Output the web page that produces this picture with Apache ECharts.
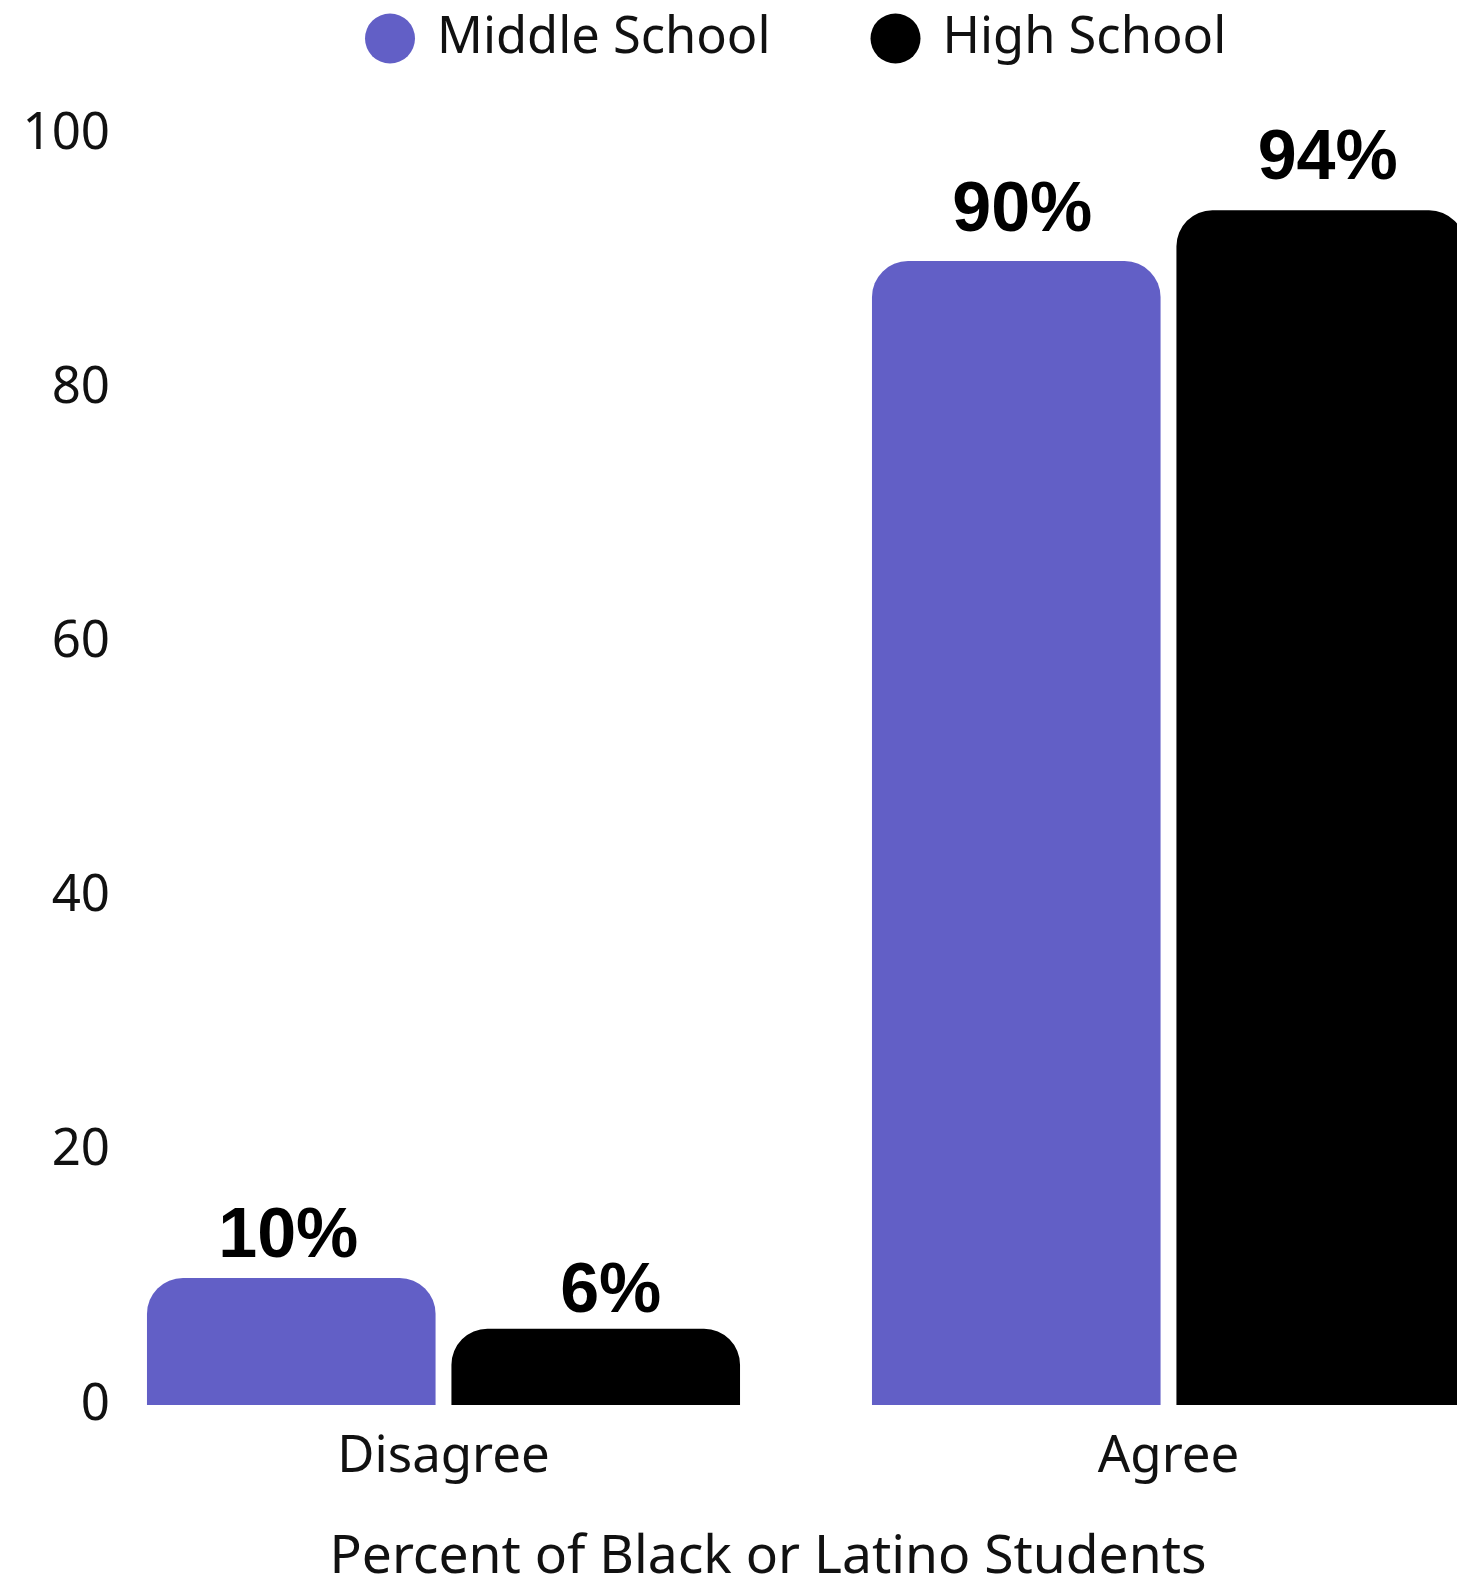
<!DOCTYPE html>
<html>
<head>
<meta charset="utf-8">
<script src="https://cdn.jsdelivr.net/npm/echarts@6/dist/echarts.min.js"></script>
<style>
html,body{margin:0;padding:0;background:#fff;}
#chart{width:1457px;height:1577px;}
</style>
</head>
<body>
<div id="chart"></div>
<script>
const categories = ["Disagree", "Agree"];
const seriesNames = ["Middle School", "High School"];
const middleSchool = [10, 90];
const highSchool = [6, 94];
const yTicks = [0, 20, 40, 60, 80, 100];
const colors = ["#625fc6", "#000000"];
// small per-label nudges (pixels) to mimic the reference's label placement
const middleLabelNudge = [[-3, 9], [6, 0]];
const highLabelNudge = [[15, 13], [7, -2]];

const chart = echarts.init(document.getElementById('chart'));
const labelStyle = {
  show: true,
  position: 'top',
  distance: 14,
  fontFamily: 'Liberation Sans, Arial, sans-serif',
  fontWeight: 'bold',
  fontSize: 70,
  color: '#000',
  formatter: p => p.value + '%'
};
function withNudges(values, nudges) {
  return values.map((v, i) => ({value: v, label: {offset: nudges[i]}}));
}
chart.setOption({
  animation: false,
  color: colors,
  legend: {
    data: seriesNames,
    top: 8,
    left: 360,
    icon: 'circle',
    itemWidth: 50,
    itemHeight: 50,
    itemGap: 100,
    textStyle: {
      fontFamily: 'Noto Sans',
      fontSize: 50.6,
      color: '#111',
      padding: [0, 0, 0, 17]
    }
  },
  grid: {
    left: 81,
    width: 1450,
    top: 134,
    bottom: 172,
    containLabel: false,
    outerBoundsMode: 'none'
  },
  xAxis: {
    type: 'category',
    data: categories,
    name: 'Percent of Black or Latino Students',
    nameLocation: 'middle',
    nameGap: 126,
    nameTextStyle: {
      fontFamily: 'Noto Sans',
      fontSize: 53.4,
      color: '#111',
      padding: [0, 76, 0, 0]
    },
    axisLine: {show: false},
    axisTick: {show: false},
    axisLabel: {
      margin: 27,
      fontFamily: 'Noto Sans',
      fontSize: 51,
      color: '#111'
    }
  },
  yAxis: {
    type: 'value',
    min: yTicks[0],
    max: yTicks[yTicks.length - 1],
    interval: yTicks[1] - yTicks[0],
    axisLine: {show: false},
    axisTick: {show: false},
    splitLine: {show: false},
    axisLabel: {
      margin: -29,
      fontFamily: 'Noto Sans',
      fontSize: 51,
      color: '#111',
      padding: [6, 0, 0, 0]
    }
  },
  series: [
    {
      name: seriesNames[0],
      type: 'bar',
      data: withNudges(middleSchool, middleLabelNudge),
      barGap: '5.5%',
      barCategoryGap: '18.2%',
      itemStyle: {color: colors[0], borderRadius: [36, 36, 0, 0]},
      label: labelStyle
    },
    {
      name: seriesNames[1],
      type: 'bar',
      data: withNudges(highSchool, highLabelNudge),
      barGap: '5.5%',
      barCategoryGap: '18.2%',
      itemStyle: {color: colors[1], borderRadius: [36, 36, 0, 0]},
      label: labelStyle
    }
  ]
});
</script>
</body>
</html>
